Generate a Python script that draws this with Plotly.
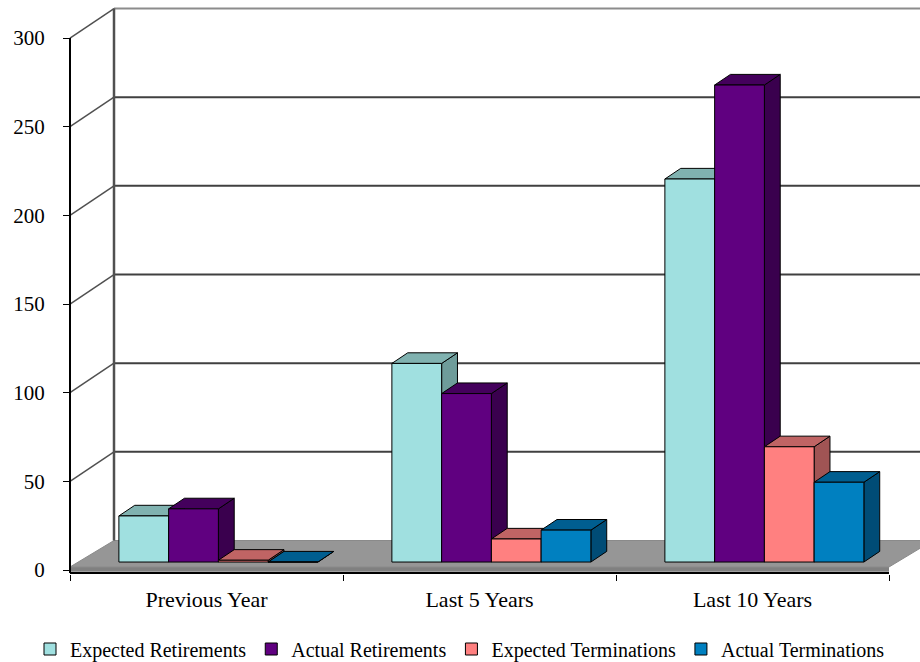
import plotly.graph_objects as go

# ---- data -------------------------------------------------------------
categories = ["Previous Year", "Last 5 Years", "Last 10 Years"]
series_names = ["Expected Retirements", "Actual Retirements",
                "Expected Terminations", "Actual Terminations"]
expected_retirements = [26, 112, 216]
actual_retirements = [30, 95, 269]
expected_terminations = [1, 13, 65]
actual_terminations = [0, 18, 45]
y_ticks = [0, 50, 100, 150, 200, 250, 300]

series_values = [expected_retirements, actual_retirements,
                 expected_terminations, actual_terminations]

# ---- styling ----------------------------------------------------------
front_colors = ["#A0E0E0", "#600080", "#FF8080", "#0080C0"]
top_colors = ["#80B2B0", "#44005C", "#C06464", "#005E90"]
side_colors = ["#6E9C9A", "#3A004E", "#A05454", "#004C76"]
FONT = "Liberation Serif, Times New Roman, serif"

# geometry of the oblique 3-D projection (pixel based, converted to data units)
PX_PER_CAT = 273.0          # width of one category slot in pixels
PX_PER_UNIT = 1.7733        # pixels per value unit
DX = 44.0 / PX_PER_CAT      # full depth, horizontal component (category units)
DY = 29.5 / PX_PER_UNIT     # full depth, vertical component (value units)
BAR_FRONT = 0.27            # depth fraction where bar fronts sit
BAR_DEPTH = 0.36            # depth fraction occupied by the bars
GAP = 37.0 / PX_PER_CAT     # gap before the first bar of a group
BAR_W = 49.75 / PX_PER_CAT  # bar width

W_PX, H_PX = 920, 662
LEFT, BOTTOM = 60, 88
AXIS_X_PX = 70              # front value axis position in page pixels
ZERO_Y_PX = 570             # front zero line in page pixels

x_min = -(AXIS_X_PX - LEFT) / PX_PER_CAT
x_max = (W_PX - AXIS_X_PX) / PX_PER_CAT
y_max = ZERO_Y_PX / PX_PER_UNIT
y_min = -((H_PX - BOTTOM) - ZERO_Y_PX) / PX_PER_UNIT


def poly(points):
    return "M " + " L ".join(f"{x:.5f},{y:.5f}" for x, y in points) + " Z"


shapes = []


def add_poly(points, fill, line_color="black", line_width=1):
    shapes.append(dict(type="path", path=poly(points), xref="x", yref="y",
                       fillcolor=fill, line=dict(color=line_color, width=line_width),
                       layer="below"))


def add_line(x0, y0, x1, y1, color, width):
    shapes.append(dict(type="line", x0=x0, y0=y0, x1=x1, y1=y1, xref="x", yref="y",
                       line=dict(color=color, width=width), layer="below"))


n_cat = len(categories)
floor_t = 1.7

# floor: front edge strip and top surface
add_poly([(0, -1.0), (n_cat, -1.0), (n_cat, floor_t), (0, floor_t)], "#808080",
         line_color="#808080", line_width=0)
add_poly([(0, floor_t), (n_cat, floor_t), (n_cat + DX, DY), (DX, DY)], "#969696",
         line_color="#8A8A8A", line_width=1)

# back wall gridlines and left wall guide lines
for v in y_ticks[1:]:
    color = "#8C8C8C" if v == y_ticks[-1] else "#404040"
    add_line(DX, v + DY, x_max + 0.2, v + DY, color, 2)
    add_line(0, v, DX, v + DY, "#505050", 1.5)
add_line(DX, DY, DX, y_ticks[-1] + DY, "#505050", 2.5)

# front axes
add_line(0, -1.7, 0, y_ticks[-1], "black", 2)
add_line(0, -1.7, n_cat, -1.7, "black", 2)

# top and side faces of every bar (painter's order: left to right)
base = BAR_FRONT * DY
ddx, ddy = BAR_DEPTH * DX, BAR_DEPTH * DY
for c in range(n_cat):
    for i, vals in enumerate(series_values):
        v = vals[c]
        xl = c + GAP + i * BAR_W + BAR_FRONT * DX
        xr = xl + BAR_W
        add_poly([(xr, base), (xr + ddx, base + ddy), (xr + ddx, base + v + ddy),
                  (xr, base + v)], side_colors[i])
        add_poly([(xl, base + v), (xr, base + v), (xr + ddx, base + v + ddy),
                  (xl + ddx, base + v + ddy)], top_colors[i])

fig = go.Figure()

# front faces of the bars
for i, (name, vals) in enumerate(zip(series_names, series_values)):
    centers = [c + GAP + (i + 0.5) * BAR_W + BAR_FRONT * DX for c in range(n_cat)]
    fig.add_trace(go.Bar(
        x=centers, y=vals, base=[base] * n_cat, width=[BAR_W] * n_cat,
        name=name, marker=dict(color=front_colors[i], line=dict(color="black", width=1)),
        hoverinfo="name+y",
    ))

fig.update_layout(
    width=W_PX, height=H_PX,
    margin=dict(l=LEFT, r=0, t=0, b=BOTTOM),
    paper_bgcolor="white", plot_bgcolor="white",
    barmode="overlay",
    shapes=shapes,
    font=dict(family=FONT, color="black"),
    showlegend=True,
    legend=dict(orientation="h", xref="container", yref="container",
                x=0.5, xanchor="center", y=(H_PX - 649) / H_PX, yanchor="middle",
                font=dict(family=FONT, size=20, color="black"),
                bgcolor="rgba(0,0,0,0)", traceorder="normal"),
    xaxis=dict(range=[x_min, x_max], showgrid=False, zeroline=False, showline=False,
               tickmode="array", tickvals=[c + 0.5 for c in range(n_cat)],
               ticktext=categories, ticks="outside", ticklen=6,
               tickcolor="rgba(0,0,0,0)",
               tickfont=dict(family=FONT, size=22, color="black"),
               minor=dict(tickmode="array", tickvals=list(range(n_cat + 1)),
                          ticks="outside", ticklen=6, tickcolor="black", tickwidth=1)),
    yaxis=dict(range=[y_min, y_max], showgrid=False, zeroline=False, showline=False,
               anchor="free", position=(AXIS_X_PX - LEFT) / (W_PX - LEFT),
               tickmode="array", tickvals=y_ticks, ticks="outside", ticklen=7,
               tickcolor="black", tickwidth=1, ticklabelstandoff=14,
               tickfont=dict(family=FONT, size=21, color="black")),
)

fig.write_html("out.html")
